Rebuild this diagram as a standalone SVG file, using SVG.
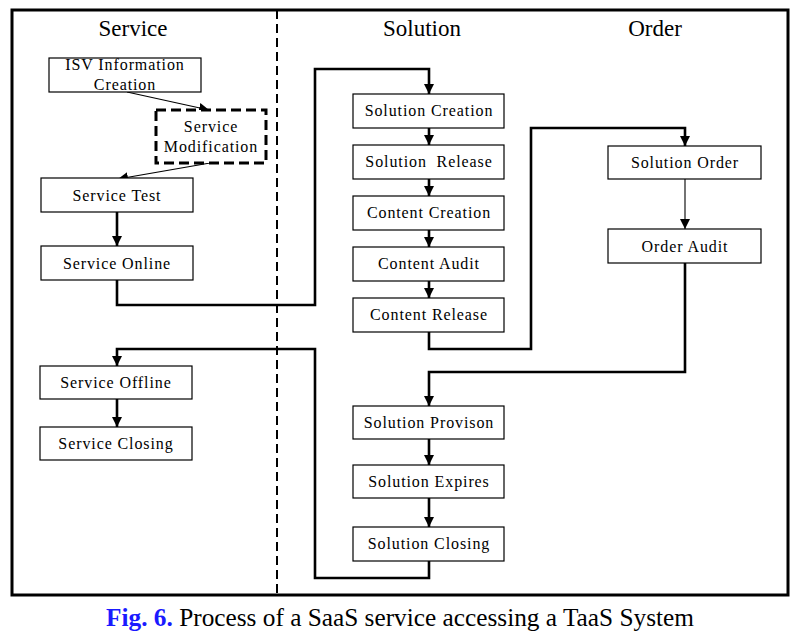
<svg xmlns="http://www.w3.org/2000/svg" width="805" height="640" viewBox="0 0 805 640">
<style>
.box{fill:#fff;stroke:#000;stroke-width:1.2}
.lbl{font-family:"Liberation Serif","Times New Roman",serif;font-size:16px;letter-spacing:0.9px;text-anchor:middle;fill:#000}
.ttl{font-family:"Liberation Serif","Times New Roman",serif;font-size:23px;text-anchor:middle;fill:#000}
.thick{fill:none;stroke:#000;stroke-width:2.6}
.thin{fill:none;stroke:#000;stroke-width:1.1}
</style>
<defs>
<marker id="ah" viewBox="0 0 10 10" refX="10" refY="5" markerWidth="10" markerHeight="10" markerUnits="userSpaceOnUse" orient="auto">
<path d="M0,0 L10,5 L0,10 z" fill="#000"/>
</marker>
</defs>
<rect width="805" height="640" fill="#fff"/>
<rect x="12" y="10" width="776" height="585" fill="none" stroke="#000" stroke-width="3"/>
<line x1="277" y1="10" x2="277" y2="595" stroke="#000" stroke-width="2" stroke-dasharray="9,5"/>
<text class="ttl" x="133" y="36">Service</text>
<text class="ttl" x="422" y="36">Solution</text>
<text class="ttl" x="655" y="36">Order</text>

<g id="connectors">
<path class="thin" d="M127,92 L209,110" marker-end="url(#ah)"/>
<path class="thin" d="M210,163 L118,179" marker-end="url(#ah)"/>
<path class="thick" d="M117,212 V246" marker-end="url(#ah)"/>
<path class="thick" d="M117,280 V305 H315 V69 H429 V94" marker-end="url(#ah)"/>
<path class="thick" d="M429,128 V145" marker-end="url(#ah)"/>
<path class="thick" d="M429,179 V196" marker-end="url(#ah)"/>
<path class="thick" d="M429,230 V247" marker-end="url(#ah)"/>
<path class="thick" d="M429,281 V298" marker-end="url(#ah)"/>
<path class="thick" d="M429,332 V349 H531 V128 H685 V146" marker-end="url(#ah)"/>
<path class="thin" d="M685,179 V229" marker-end="url(#ah)"/>
<path class="thick" d="M685,263 V372 H429 V406" marker-end="url(#ah)"/>
<path class="thick" d="M429,439 V465" marker-end="url(#ah)"/>
<path class="thick" d="M429,498 V527" marker-end="url(#ah)"/>
<path class="thick" d="M429,561 V578 H315 V349 H117 V366" marker-end="url(#ah)"/>
<path class="thick" d="M117,399 V427" marker-end="url(#ah)"/>
</g>

<g id="isv-info"><rect class="box" x="49" y="58" width="152" height="34"/><text class="lbl" x="125" y="70">ISV Information</text><text class="lbl" x="125" y="90">Creation</text></g>
<g id="service-modification"><rect x="156" y="110" width="110" height="53" fill="#fff" stroke="#000" stroke-width="3" stroke-dasharray="10,5"/><text class="lbl" x="211" y="132">Service</text><text class="lbl" x="211" y="152">Modification</text></g>
<g id="service-test"><rect class="box" x="41" y="178" width="152" height="34"/><text class="lbl" x="117" y="201">Service Test</text></g>
<g id="service-online"><rect class="box" x="41" y="246" width="152" height="34"/><text class="lbl" x="117" y="269">Service Online</text></g>
<g id="service-offline"><rect class="box" x="40" y="366" width="152" height="33"/><text class="lbl" x="116" y="388">Service Offline</text></g>
<g id="service-closing"><rect class="box" x="40" y="427" width="152" height="33"/><text class="lbl" x="116" y="449">Service Closing</text></g>

<g id="solution-creation"><rect class="box" x="353" y="94" width="151" height="34"/><text class="lbl" x="429" y="116">Solution Creation</text></g>
<g id="solution-release"><rect class="box" x="353" y="145" width="151" height="34"/><text class="lbl" x="429" y="167" xml:space="preserve">Solution  Release</text></g>
<g id="content-creation"><rect class="box" x="353" y="196" width="151" height="34"/><text class="lbl" x="429" y="218">Content Creation</text></g>
<g id="content-audit"><rect class="box" x="353" y="247" width="151" height="34"/><text class="lbl" x="429" y="269">Content Audit</text></g>
<g id="content-release"><rect class="box" x="353" y="298" width="151" height="34"/><text class="lbl" x="429" y="320">Content Release</text></g>
<g id="solution-provison"><rect class="box" x="353" y="406" width="151" height="33"/><text class="lbl" x="429" y="428">Solution Provison</text></g>
<g id="solution-expires"><rect class="box" x="353" y="465" width="151" height="33"/><text class="lbl" x="429" y="487">Solution Expires</text></g>
<g id="solution-closing"><rect class="box" x="353" y="527" width="151" height="34"/><text class="lbl" x="429" y="549">Solution Closing</text></g>

<g id="solution-order"><rect class="box" x="608" y="146" width="153" height="33"/><text class="lbl" x="685" y="168">Solution Order</text></g>
<g id="order-audit"><rect class="box" x="608" y="229" width="153" height="34"/><text class="lbl" x="685" y="252">Order Audit</text></g>

<text x="400" y="626" font-family="'Liberation Serif','Times New Roman',serif" font-size="25.3" text-anchor="middle"><tspan fill="#1a1aff" font-weight="bold">Fig. 6.</tspan> Process of a SaaS service accessing a TaaS System</text>
</svg>
